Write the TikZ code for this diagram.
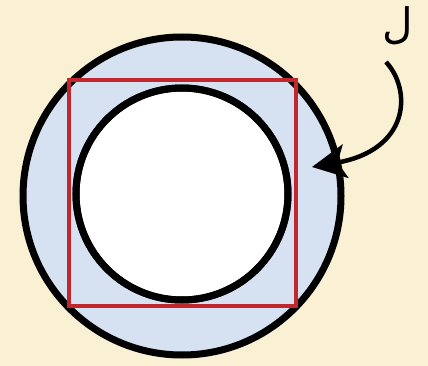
\documentclass[tikz,border=0pt]{standalone}
\usepackage{fontspec}
\newfontfamily\arabicfont[Script=Arabic]{DejaVu Sans}
\TeXXeTstate=1
\usetikzlibrary{arrows.meta}
\definecolor{bg}{HTML}{FAF0D4}
\definecolor{ring}{HTML}{D6E2F2}
\definecolor{sq}{HTML}{C0282E}
\tikzset{
  blackcirc/.style={circle, draw=black, line width=7pt, inner sep=0pt, outer sep=0pt},
  redsq/.style={draw=sq, line width=4pt, inner sep=0pt, outer sep=0pt},
  pointer/.style={line width=4.5pt, -{Stealth[length=34pt,width=34pt,inset=8pt]}},
}
\begin{document}
\begin{tikzpicture}[x=1pt,y=-1pt]
\fill[bg] (0,0) rectangle (428,366);
\useasboundingbox (0,0) rectangle (428,366);
\node[blackcirc, fill=ring, minimum size=318pt] (outer) at (182,196) {};
\node[redsq, minimum width=227pt, minimum height=225pt] (square) at (182,193) {};
\node[blackcirc, fill=white, minimum size=212pt] (inner) at (182,194) {};
\draw[sq, line width=4pt] (square.north west) rectangle (square.south east);
\draw[black, line width=7pt] (inner.center) circle[radius=106pt];
\node[inner sep=0pt, font=\fontsize{42}{42}\selectfont] (lam) at (398,26) {\arabicfont\beginR ل\endR};
\coordinate (tip) at (312,167);
\draw[pointer] (386,62) .. controls (412,90) and (410,150) .. (tip);
\end{tikzpicture}
\end{document}
